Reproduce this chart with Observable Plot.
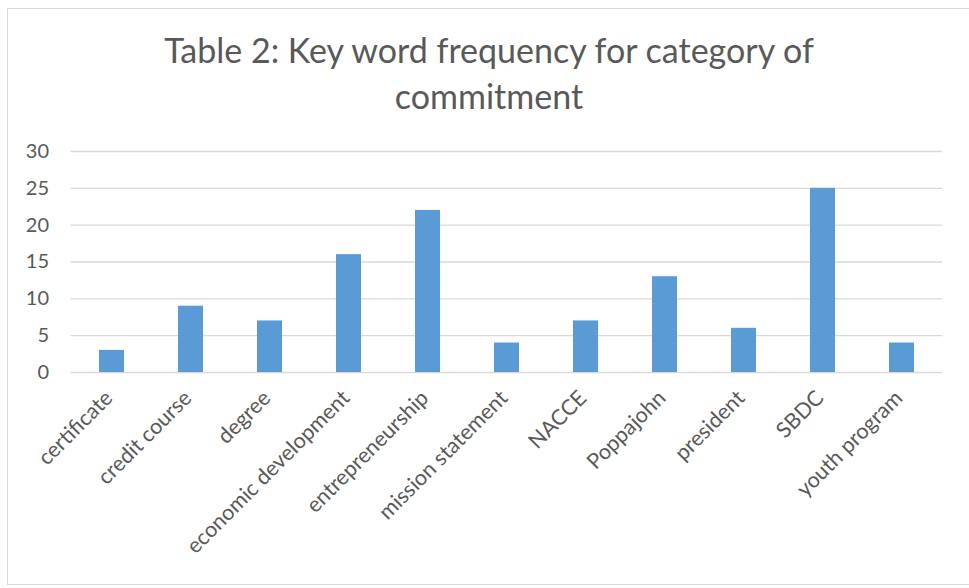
<!DOCTYPE html>
<html>
<head>
<meta charset="utf-8">
<script src="https://cdn.jsdelivr.net/npm/d3@7"></script>
<script src="https://cdn.jsdelivr.net/npm/@observablehq/plot@0.6"></script>
<style>
  html, body { margin: 0; padding: 0; background: #fff; }
  #wrap { position: relative; width: 969px; height: 588px; overflow: hidden; font-family: Lato, "Open Sans", sans-serif; }
  #frame { position: absolute; left: 7px; top: 8px; width: 1000px; height: 577px; border: 1px solid #d9d9d9; box-sizing: border-box; }
  #title { position: absolute; left: 0; top: 27px; width: 978px; text-align: center; color: #595959; font-size: 34px; line-height: 46px; }
  #chart { position: absolute; left: 0; top: 0; }
</style>
</head>
<body>
<div id="wrap">
  <div id="frame"></div>
  <div id="title">Table 2: Key word frequency for category of<br>commitment</div>
  <div id="chart"></div>
</div>
<script>
// Key words counted per category of commitment
const keywords = ["certificate", "credit course", "degree", "economic development", "entrepreneurship",
  "mission statement", "NACCE", "Poppajohn", "president", "SBDC", "youth program"];
const counts = [3, 9, 7, 16, 22, 4, 7, 13, 6, 25, 4];
const yTicks = [0, 5, 10, 15, 20, 25, 30];

const rows = keywords.map((k, i) => ({keyword: k, count: counts[i]}));

const chart = Plot.plot({
  width: 969,
  height: 588,
  marginLeft: 70.5,
  marginRight: 27,
  marginTop: 151,
  marginBottom: 216,
  style: {fontFamily: "Lato, 'Open Sans', sans-serif", fontSize: "20px", color: "#595959", background: "transparent"},
  x: {domain: keywords, paddingInner: 0.685, paddingOuter: 0.3425, align: 0.5},
  y: {domain: [0, 30]},
  marks: [
    Plot.ruleY(yTicks, {stroke: "#d9d9d9", strokeWidth: 1.3}),
    Plot.barY(rows, {x: "keyword", y: "count", fill: "#5b9bd5"}),
    Plot.axisY({ticks: yTicks, tickSize: 0, tickPadding: 22, label: null, fill: "#595959", fontSize: 20}),
    Plot.axisX({tickSize: 0, tickRotate: -45, tickPadding: 22, dx: -3, label: null, fill: "#595959", fontSize: 21.5})
  ]
});
document.getElementById("chart").appendChild(chart);
</script>
</body>
</html>
